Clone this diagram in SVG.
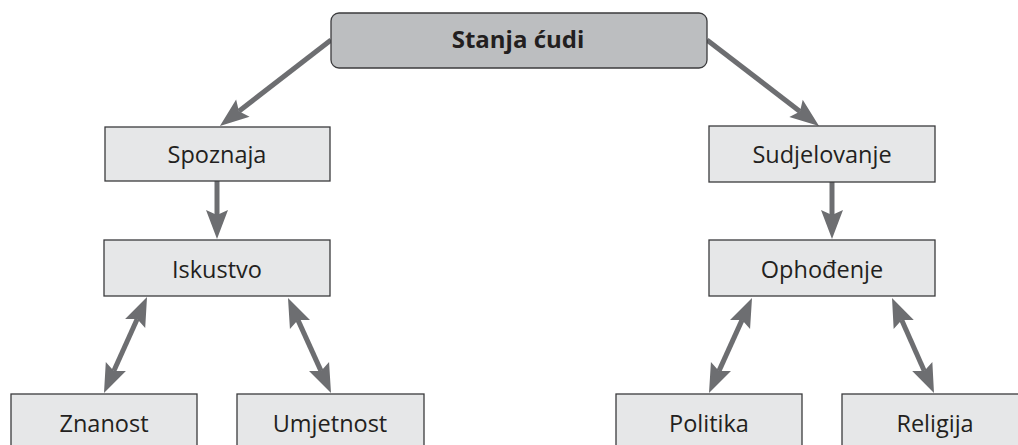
<svg xmlns="http://www.w3.org/2000/svg" width="1018" height="445" viewBox="0 0 1018 445">
  <style>
    .box { fill: #e6e7e8; stroke: #3b3b3d; stroke-width: 1.3; }
    .root { fill: #bcbec0; stroke: #3b3b3d; stroke-width: 1.3; }
    .lbl { font-family: "Open Sans", "Noto Sans", sans-serif; font-size: 23.5px; fill: #231f20; text-anchor: middle; }
    .title { font-weight: bold; font-size: 24px; }
    .edge { stroke: #6d6e71; stroke-width: 5; fill: none; }
    .one { marker-end: url(#head); }
    .two { marker-start: url(#head); marker-end: url(#head); }
  </style>
  <defs>
    <!-- notched arrowhead; reference point sits at the notch, tip 24px ahead -->
    <marker id="head" markerUnits="userSpaceOnUse" markerWidth="60" markerHeight="60" refX="0" refY="0" orient="auto-start-reverse" overflow="visible">
      <path d="M24,0 L-5,-11 L0,0 L-5,11 Z" fill="#6d6e71"/>
    </marker>
  </defs>

  <g id="connectors">
    <line class="edge one" x1="331" y1="40" x2="238.9" y2="111.2"/>
    <line class="edge one" x1="707" y1="40" x2="800.0" y2="111.4"/>
    <line class="edge one" x1="217" y1="181" x2="217" y2="215"/>
    <line class="edge one" x1="832" y1="182" x2="832" y2="215"/>
    <line class="edge two" x1="137.2" y1="318.9" x2="113.8" y2="371.1"/>
    <line class="edge two" x1="297.9" y1="319.9" x2="321.1" y2="371.1"/>
    <line class="edge two" x1="742.1" y1="319.9" x2="718.9" y2="371.1"/>
    <line class="edge two" x1="901.7" y1="319.9" x2="924.3" y2="371.1"/>
  </g>

  <g id="stanja-cudi">
    <rect class="root" x="331" y="13" width="376" height="55" rx="8"/>
    <text class="lbl title" x="518" y="48">Stanja ćudi</text>
  </g>
  <g id="spoznaja">
    <rect class="box" x="105" y="127" width="225" height="54"/>
    <text class="lbl" x="217" y="163">Spoznaja</text>
  </g>
  <g id="sudjelovanje">
    <rect class="box" x="709" y="126" width="226" height="56"/>
    <text class="lbl" x="822" y="163">Sudjelovanje</text>
  </g>
  <g id="iskustvo">
    <rect class="box" x="104" y="240" width="226" height="56"/>
    <text class="lbl" x="217" y="278">Iskustvo</text>
  </g>
  <g id="ophodjenje">
    <rect class="box" x="709" y="240" width="226" height="56"/>
    <text class="lbl" x="822" y="278">Ophođenje</text>
  </g>
  <g id="znanost">
    <rect class="box" x="11" y="394" width="186" height="70"/>
    <text class="lbl" x="104" y="432">Znanost</text>
  </g>
  <g id="umjetnost">
    <rect class="box" x="237" y="394" width="187" height="70"/>
    <text class="lbl" x="330" y="432">Umjetnost</text>
  </g>
  <g id="politika">
    <rect class="box" x="616" y="394" width="186" height="70"/>
    <text class="lbl" x="709" y="432">Politika</text>
  </g>
  <g id="religija">
    <rect class="box" x="842" y="394" width="187" height="70"/>
    <text class="lbl" x="935" y="432">Religija</text>
  </g>
</svg>
